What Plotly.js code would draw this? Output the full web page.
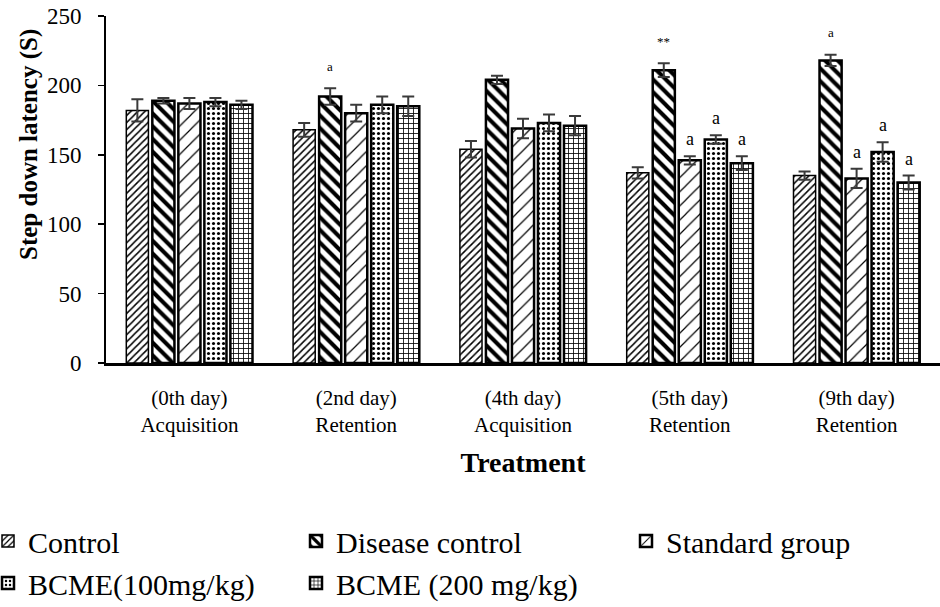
<!DOCTYPE html>
<html>
<head>
<meta charset="utf-8">
<script src="https://cdn.plot.ly/plotly-3.0.1.min.js"></script>
<style>html,body{margin:0;padding:0;background:#fff;}#chart{width:940px;height:607px;}</style>
</head>
<body>
<div id="chart"></div>
<script>
// ---- data ----
var categories = ["(0th day)<br>Acquisition", "(2nd day)<br>Retention", "(4th day)<br>Acquisition", "(5th day)<br>Retention", "(9th day)<br>Retention"];
var seriesNames = ["Control", "Disease control", "Standard group", "BCME(100mg/kg)", "BCME (200 mg/kg)"];
var controlVals  = [182, 168, 154, 137, 135];
var controlErr   = [8, 5, 6, 4, 3];
var diseaseVals  = [189, 192, 204, 211, 218];
var diseaseErr   = [2, 6, 3, 5, 4];
var standardVals = [187, 180, 169, 146, 133];
var standardErr  = [4, 6, 7, 3, 7];
var bcme100Vals  = [188, 186, 173, 161, 152];
var bcme100Err   = [3, 6, 6, 3, 7];
var bcme200Vals  = [186, 185, 171, 144, 130];
var bcme200Err   = [3, 7, 7, 5, 5];
// significance labels per series per category
var controlSig   = ["", "", "", "", ""];
var diseaseSig   = ["", "a", "", "**", "a"];
var standardSig  = ["", "", "", "a", "a"];
var bcme100Sig   = ["", "", "", "a", "a"];
var bcme200Sig   = ["", "", "", "a", "a"];
var yTitle = "Step down latency (S)";
var xTitle = "Treatment";

var values = [controlVals, diseaseVals, standardVals, bcme100Vals, bcme200Vals];
var errs = [controlErr, diseaseErr, standardErr, bcme100Err, bcme200Err];
var sigs = [controlSig, diseaseSig, standardSig, bcme100Sig, bcme200Sig];

var patterns = [
  {shape: "/", size: 5, solidity: 0.3},
  {shape: "\\", size: 9, solidity: 0.45},
  {shape: "/", size: 10, solidity: 0.12},
  {shape: ".", size: 5, solidity: 0.3},
  {shape: "+", size: 5, solidity: 0.3}
];
var lineW = [1.5, 2.5, 2.5, 2.5, 2.5];
// legend column assignment (col1: Control, BCME100; col2: Disease, BCME200; col3: Standard)
var legendOf = ["legend", "legend2", "legend3", "legend", "legend2"];

var FONT = "'Liberation Serif', 'Times New Roman', serif";
var traces = seriesNames.map(function (name, i) {
  var p = patterns[i];
  return {
    type: "bar",
    name: name,
    x: categories,
    y: values[i],
    legend: legendOf[i],
    marker: {
      color: "#ffffff",
      line: {color: "#000000", width: lineW[i]},
      pattern: {shape: p.shape, size: p.size, solidity: p.solidity, fgcolor: "#000000", bgcolor: "#ffffff", fillmode: "replace"}
    },
    error_y: {type: "data", array: errs[i], visible: true, color: "#3a3a3a", thickness: 2, width: 6}
  };
});

var L = 106, R = 0, T = 16, B = 244;
var W = 940 - L - R, H = 607 - T - B;
var bargap = 0.22;
var slot = (W / categories.length) * (1 - bargap) / seriesNames.length;

var annotations = [];
sigs.forEach(function (arr, i) {
  arr.forEach(function (s, j) {
    if (!s) return;
    var small = (i === 1);
    annotations.push({
      x: categories[j], y: values[i][j] + errs[i][j],
      xref: "x", yref: "y",
      text: s, showarrow: false,
      xshift: (i - 2) * slot,
      yshift: small ? 22 : 17,
      font: {family: FONT, size: small ? 13 : 18, color: "#000"}
    });
  });
});
// y-axis title (placed as in the reference, above centre)
annotations.push({
  xref: "paper", yref: "paper", x: (29 - L) / W, y: (363 - 145) / H,
  text: "<b>" + yTitle + "</b>", textangle: -90, showarrow: false,
  xanchor: "center", yanchor: "middle",
  font: {family: FONT, size: 25, color: "#000"}
});

function legendAt(px) {
  return {
    orientation: "v", x: (px - L) / W, xanchor: "left", y: -0.438, yanchor: "top",
    font: {family: FONT, size: 30, color: "#000"}, traceorder: "normal",
    itemwidth: 30, bgcolor: "rgba(0,0,0,0)", borderwidth: 0, tracegroupgap: 0
  };
}

var layout = {
  width: 940, height: 607,
  margin: {l: L, r: R, t: T, b: B, autoexpand: false},
  paper_bgcolor: "#fff", plot_bgcolor: "#fff",
  font: {family: FONT, color: "#000"},
  barmode: "group", bargap: bargap, bargroupgap: 0.15,
  xaxis: {
    showline: true, linecolor: "#000", linewidth: 2.5,
    ticks: "", showgrid: false, zeroline: false,
    tickfont: {family: FONT, size: 21, color: "#000"},
    ticklabelstandoff: 14,
    title: {text: "<b>" + xTitle + "</b>", font: {family: FONT, size: 28, color: "#000"}, standoff: 17},
    automargin: false
  },
  yaxis: {
    range: [0, 250], dtick: 50, tick0: 0,
    showline: true, linecolor: "#000", linewidth: 2,
    ticks: "outside", ticklen: 6, tickwidth: 1.5, tickcolor: "#000",
    showgrid: false, zeroline: false,
    tickfont: {family: FONT, size: 23, color: "#000"},
    ticklabelstandoff: 12,
    automargin: false
  },
  showlegend: true,
  legend: legendAt(-12),
  legend2: legendAt(296),
  legend3: legendAt(626),
  annotations: annotations
};

Plotly.newPlot("chart", traces, layout, {displayModeBar: false, staticPlot: true});
</script>
</body>
</html>
